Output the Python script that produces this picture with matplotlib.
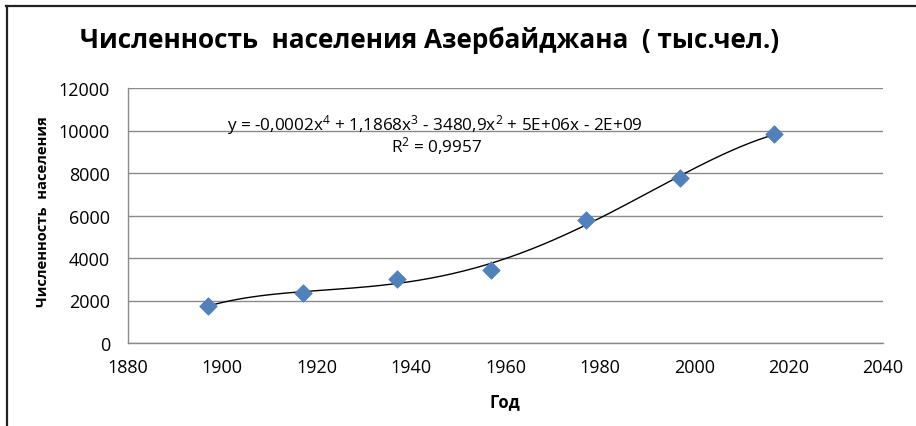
import numpy as np
import matplotlib
matplotlib.use("Agg")
import matplotlib.pyplot as plt
from matplotlib.lines import Line2D

plt.rcParams['font.family'] = ['Open Sans', 'DejaVu Sans']
plt.rcParams['mathtext.fontset'] = 'custom'
plt.rcParams['mathtext.rm'] = 'Open Sans'
plt.rcParams['mathtext.it'] = 'Open Sans'

# данные (тыс. чел.)
years = [1897, 1917, 1937, 1957, 1977, 1997, 2017]
population = [1750, 2340, 3010, 3450, 5800, 7760, 9830]

title = "Численность  населения Азербайджана  ( тыс.чел.)"
xlabel = "Год"
ylabel = "Численность  населения"
equation = "y = -0,0002x$^{4}$ + 1,1868x$^{3}$ - 3480,9x$^{2}$ + 5E+06x - 2E+09"
r2_text = "R$^{2}$ = 0,9957"

xticks = [1880, 1900, 1920, 1940, 1960, 1980, 2000, 2020, 2040]
yticks = [0, 2000, 4000, 6000, 8000, 10000, 12000]

W, H = 916, 427
fig = plt.figure(figsize=(W / 100, H / 100), dpi=100)
ax = fig.add_axes([128 / W, 1 - 344 / H, 755 / W, 255 / H])

# полиномиальная линия тренда 4-й степени
x = np.array(years, dtype=float)
y = np.array(population, dtype=float)
coef = np.polyfit(x - 1957, y, 4)
xs = np.linspace(x.min(), x.max(), 300)
ax.plot(xs, np.polyval(coef, xs - 1957), color='black', lw=1.0, zorder=3)

ax.scatter(years, population, marker='D', s=80, color='#4f81bd',
           edgecolors='#4f81bd', linewidths=0.5, zorder=4)

ax.set_xlim(1880, 2040)
ax.set_ylim(0, 12000)
ax.set_xticks(xticks)
ax.set_yticks(yticks)
ax.grid(axis='y', color='#8a8a8a', lw=1.0)
ax.set_axisbelow(True)
for s in ['top', 'right']:
    ax.spines[s].set_visible(False)
for s in ['left', 'bottom']:
    ax.spines[s].set_color('#8a8a8a')
    ax.spines[s].set_linewidth(1.0)
ax.tick_params(length=0, labelsize=13, colors='black')
ax.tick_params(axis='y', pad=13)
ax.tick_params(axis='x', pad=11)

fig.text(430 / W, 1 - 40 / H, title, ha='center', va='center',
         fontsize=18.8, fontweight='bold')
fig.text(43 / W, 1 - 212 / H, ylabel, ha='center', va='center',
         rotation=90, fontsize=10.6, fontweight='bold')
fig.text(505 / W, 1 - 402 / H, xlabel, ha='center', va='center',
         fontsize=12, fontweight='bold')
fig.text(435 / W, 1 - 125 / H, equation, ha='center', va='center', fontsize=12.3)
fig.text(437 / W, 1 - 146 / H, r2_text, ha='center', va='center', fontsize=12.3)

# рамка диаграммы (обрезанная)
fig.add_artist(Line2D([6 / W, 1], [1 - 7 / H, 1 - 7 / H], color='#222222', lw=1.6,
                      transform=fig.transFigure))
fig.add_artist(Line2D([7 / W, 7 / W], [0, 1 - 7 / H], color='#222222', lw=1.6,
                      transform=fig.transFigure))

fig.savefig("out.png", dpi=100)
